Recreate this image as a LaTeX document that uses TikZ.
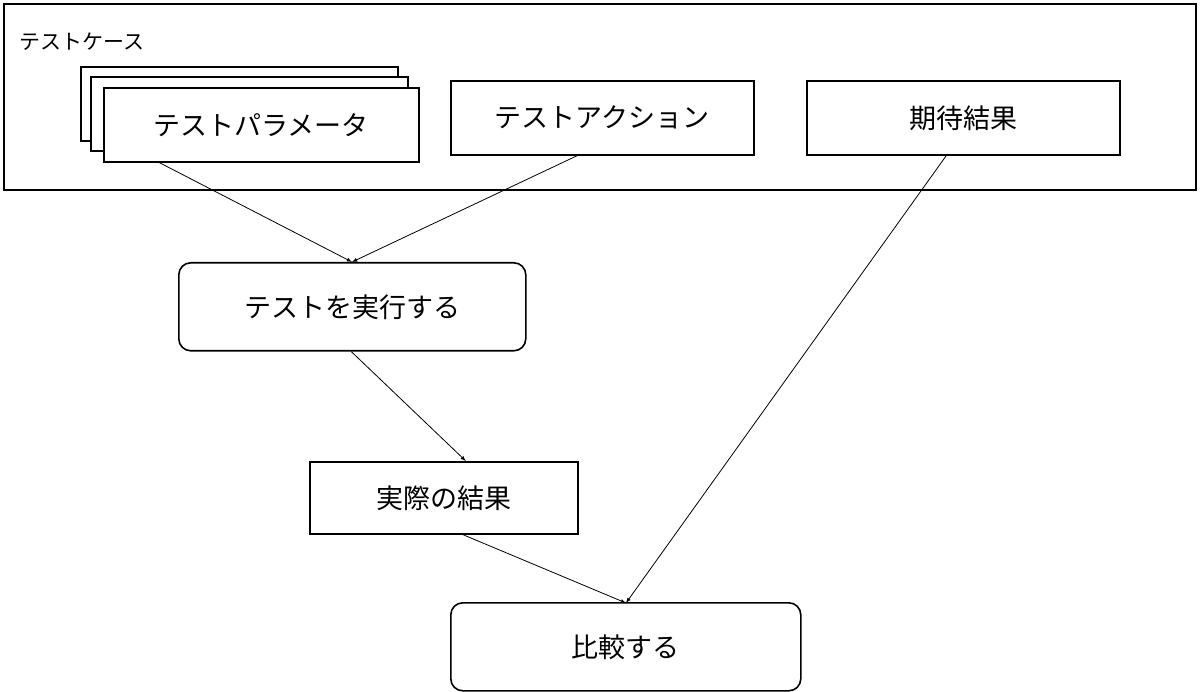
\documentclass[tikz,border=0pt]{standalone}
\usepackage{fontspec}
\setmainfont{Noto Sans CJK JP}
\begin{document}
\begin{tikzpicture}[x=1pt,y=-1pt,
  box/.style={draw,line width=1.6pt,fill=white,font=\fontsize{27}{30}\selectfont},
  rbox/.style={box,rounded corners=12pt},
  arr/.style={-latex,line width=0.8pt}]
\useasboundingbox (0,0) rectangle (1200,692);
\draw[line width=1.6pt] (4,4) rectangle (1196,190);
\node[anchor=west,font=\fontsize{21}{24}\selectfont] (tc) at (16,42) {テストケース};
\draw[line width=1.6pt,fill=white] (81,67) rectangle (398,141);
\draw[line width=1.6pt,fill=white] (91,77) rectangle (408,151);
\node[box,minimum width=315,minimum height=74,anchor=north west] (p) at (103,87) {テストパラメータ};
\node[box,minimum width=303,minimum height=74,anchor=north west] (a) at (450,80) {テストアクション};
\node[box,minimum width=313,minimum height=74,anchor=north west] (e) at (806,80) {期待結果};
\node[rbox,minimum width=347,minimum height=88,anchor=north west] (x) at (178,262) {テストを実行する};
\node[box,minimum width=268,minimum height=72,anchor=north west] (r) at (309,461) {実際の結果};
\node[rbox,minimum width=350,minimum height=88,anchor=north west] (c) at (450,602) {比較する};
\coordinate (xt) at (352,262);
\coordinate (ct) at (626,603);
\draw[arr] ([xshift=-102]p.south) -- (xt);
\draw[arr] ([xshift=-25]a.south) -- (xt);
\draw[arr] ([xshift=-1]x.south) -- ([xshift=22]r.north);
\draw[arr] ([xshift=19]r.south) -- (ct);
\draw[arr] ([xshift=-17]e.south) -- (ct);
\end{tikzpicture}
\end{document}
